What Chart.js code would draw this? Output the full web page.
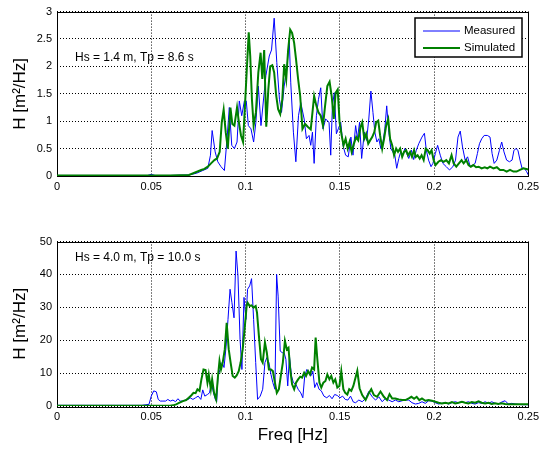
<!DOCTYPE html>
<html>
<head>
<meta charset="utf-8">
<title>Wave spectra</title>
<script src="https://cdn.jsdelivr.net/npm/chart.js@4.4.1/dist/chart.umd.min.js"></script>
<style>
  html, body { margin: 0; padding: 0; background: #fff; }
  #wrap { position: relative; width: 543px; height: 449px; }
  canvas { position: absolute; left: 0; }
  #topChart { top: 0; }
  #bottomChart { top: 215px; }
</style>
</head>
<body>
<div id="wrap">
  <canvas id="topChart" width="543" height="205"></canvas>
  <canvas id="bottomChart" width="543" height="234"></canvas>
</div>
<script>
// --------- Data ----------
const seriesLabels = ["Measured", "Simulated"];
const seaStates = ["Hs = 1.4 m, Tp = 8.6 s", "Hs = 4.0 m, Tp = 10.0 s"];

const freqTicks = [0, 0.05, 0.1, 0.15, 0.2, 0.25];
const freqTickLabels = ["0", "0.05", "0.1", "0.15", "0.2", "0.25"];
const topYTicks = [0, 0.5, 1, 1.5, 2, 2.5, 3];
const topYTickLabels = ["0", "0.5", "1", "1.5", "2", "2.5", "3"];
const botYTicks = [0, 10, 20, 30, 40, 50];
const botYTickLabels = ["0", "10", "20", "30", "40", "50"];

// Hs = 1.4 m : measured spectrum
const topFreqMeas = [
  0, 0.02, 0.04, 0.048, 0.05, 0.052, 0.06, 0.07, 0.074, 0.0773,
  0.0800, 0.0814, 0.0823, 0.0839, 0.0853, 0.0870, 0.0888, 0.0902, 0.0914, 0.0927,
  0.0941, 0.0955, 0.0967, 0.0980, 0.0994, 0.1004, 0.1015, 0.1029, 0.1043, 0.1055,
  0.1068, 0.1082, 0.1099, 0.1108, 0.1126, 0.1138, 0.1152, 0.1166, 0.1180, 0.1191,
  0.1205, 0.1219, 0.1232, 0.1240, 0.1254, 0.1267, 0.1281, 0.1293, 0.1311, 0.1323,
  0.1337, 0.1346, 0.1355, 0.1364, 0.1376, 0.1387, 0.1399, 0.1411, 0.1425, 0.1443,
  0.1452, 0.1461, 0.1471, 0.1482, 0.1492, 0.1505, 0.1517, 0.1531, 0.1545, 0.1559,
  0.1570, 0.1584, 0.1594, 0.1605, 0.1616, 0.1630, 0.1642, 0.1654, 0.1665, 0.1676,
  0.1686, 0.1697, 0.1707, 0.1718, 0.1728, 0.1739, 0.1749, 0.1760, 0.1771, 0.1781,
  0.1792, 0.1802, 0.1813, 0.1823, 0.1834, 0.1845, 0.1855, 0.1866, 0.1880, 0.1892,
  0.1906, 0.1919, 0.1936, 0.1949, 0.1959, 0.1971, 0.1984, 0.1994, 0.2007, 0.2019,
  0.2033, 0.2047, 0.2065, 0.2082, 0.2100, 0.2114, 0.2127, 0.2139, 0.2151, 0.2165,
  0.2178, 0.2192, 0.2206, 0.2218, 0.2230, 0.2241, 0.2253, 0.2266, 0.2283, 0.2297,
  0.2308, 0.2319, 0.2333, 0.2347, 0.2359, 0.2371, 0.2385, 0.2400, 0.2414, 0.2424,
  0.2435, 0.2445, 0.2456, 0.2467, 0.2479, 0.2491, 0.2500
];
const topMeas = [
  0.01, 0.01, 0.01, 0.01, 0.03, 0.01, 0.01, 0.02, 0.05, 0.10,
  0.14, 0.38, 0.83, 0.44, 0.26, 0.17, 0.10, 0.68, 1.25, 0.56,
  0.50, 0.62, 1.37, 1.10, 1.37, 1.37, 0.92, 0.86, 0.62, 0.98,
  1.64, 0.92, 1.52, 1.83, 2.19, 2.30, 2.88, 2.07, 1.40, 1.16,
  1.64, 1.95, 2.49, 1.70, 0.80, 0.26, 1.10, 1.34, 1.04, 0.68,
  0.74, 0.56, 0.80, 0.23, 1.10, 1.40, 1.61, 0.86, 1.04, 0.98,
  0.38, 1.28, 1.52, 0.77, 0.86, 0.98, 0.56, 0.38, 0.35, 0.71,
  0.38, 0.92, 0.68, 0.98, 0.32, 0.80, 0.65, 1.04, 1.55, 1.16,
  0.80, 0.62, 0.68, 0.50, 0.59, 0.86, 1.28, 0.80, 0.50, 0.44,
  0.38, 0.14, 0.32, 0.44, 0.38, 0.50, 0.41, 0.32, 0.47, 0.30,
  0.47, 0.59, 0.71, 0.78, 0.47, 0.29, 0.17, 0.23, 0.41, 0.56,
  0.38, 0.23, 0.17, 0.11, 0.17, 0.29, 0.71, 0.82, 0.53, 0.29,
  0.35, 0.17, 0.20, 0.23, 0.41, 0.59, 0.68, 0.74, 0.74, 0.71,
  0.41, 0.23, 0.29, 0.47, 0.62, 0.44, 0.29, 0.26, 0.29, 0.47,
  0.50, 0.47, 0.29, 0.14, 0.14, 0.08, 0.02
];

// Hs = 1.4 m : simulated spectrum
const topFreqSim = [
  0, 0.02, 0.04, 0.06, 0.07, 0.0765, 0.0782, 0.0800, 0.0817, 0.0835,
  0.0849, 0.0863, 0.0874, 0.0884, 0.0895, 0.0906, 0.0920, 0.0930, 0.0941, 0.0955,
  0.0965, 0.0976, 0.0987, 0.0997, 0.1006, 0.1017, 0.1025, 0.1034, 0.1043, 0.1055,
  0.1068, 0.1080, 0.1089, 0.1099, 0.1110, 0.1121, 0.1131, 0.1142, 0.1152, 0.1163,
  0.1173, 0.1184, 0.1195, 0.1205, 0.1216, 0.1226, 0.1237, 0.1247, 0.1258, 0.1268,
  0.1279, 0.1290, 0.1302, 0.1316, 0.1330, 0.1346, 0.1364, 0.1376, 0.1387, 0.1399,
  0.1411, 0.1422, 0.1434, 0.1446, 0.1457, 0.1468, 0.1478, 0.1489, 0.1499, 0.1510,
  0.1520, 0.1531, 0.1542, 0.1552, 0.1563, 0.1575, 0.1587, 0.1598, 0.1610, 0.1619,
  0.1630, 0.1640, 0.1651, 0.1661, 0.1672, 0.1683, 0.1693, 0.1704, 0.1714, 0.1725,
  0.1735, 0.1746, 0.1757, 0.1767, 0.1778, 0.1788, 0.1799, 0.1809, 0.1820, 0.1831,
  0.1841, 0.1852, 0.1862, 0.1873, 0.1883, 0.1894, 0.1903, 0.1913, 0.1924, 0.1934,
  0.1945, 0.1956, 0.1966, 0.1977, 0.1987, 0.1998, 0.2008, 0.2023, 0.2037, 0.2051,
  0.2065, 0.2079, 0.2093, 0.2104, 0.2118, 0.2132, 0.2146, 0.2157, 0.2171, 0.2183,
  0.2195, 0.2209, 0.2223, 0.2237, 0.2252, 0.2269, 0.2283, 0.2297, 0.2315, 0.2333,
  0.2350, 0.2368, 0.2385, 0.2403, 0.2421, 0.2438, 0.2456, 0.2474, 0.2500
];
const topSim = [
  0.01, 0.01, 0.01, 0.01, 0.02, 0.11, 0.13, 0.17, 0.23, 0.29,
  0.32, 0.44, 0.98, 1.21, 0.80, 0.50, 1.25, 0.95, 0.92, 1.25,
  0.98, 0.74, 0.62, 1.28, 1.89, 2.62, 2.19, 1.40, 0.92, 1.16,
  1.89, 2.25, 1.77, 2.30, 0.90, 1.58, 2.00, 2.02, 1.89, 1.46,
  1.22, 1.13, 1.40, 2.04, 1.77, 2.30, 2.67, 2.61, 2.43, 2.13,
  1.77, 1.46, 0.86, 0.95, 0.90, 0.85, 1.46, 1.28, 1.16, 1.10,
  0.92, 1.28, 1.64, 1.72, 1.46, 1.04, 1.52, 1.58, 0.98, 0.74,
  0.56, 0.68, 0.50, 0.62, 0.44, 0.59, 0.71, 0.65, 0.89, 0.98,
  0.68, 0.77, 0.59, 0.65, 0.71, 0.80, 0.98, 1.01, 0.74, 0.50,
  0.68, 0.92, 1.04, 0.68, 0.56, 0.38, 0.50, 0.44, 0.50, 0.35,
  0.44, 0.47, 0.38, 0.44, 0.35, 0.47, 0.35, 0.38, 0.32, 0.38,
  0.29, 0.50, 0.47, 0.41, 0.47, 0.29, 0.20, 0.26, 0.29, 0.26,
  0.29, 0.23, 0.38, 0.23, 0.17, 0.23, 0.29, 0.23, 0.29, 0.20,
  0.17, 0.20, 0.16, 0.17, 0.14, 0.16, 0.14, 0.17, 0.14, 0.16,
  0.11, 0.11, 0.08, 0.11, 0.08, 0.08, 0.11, 0.14, 0.12
];

// Hs = 4.0 m : measured spectrum
const botFreqMeas = [
  0, 0.02, 0.045, 0.0488, 0.0500, 0.0513, 0.0527, 0.0537, 0.0548, 0.0562,
  0.0576, 0.0588, 0.0601, 0.0615, 0.0629, 0.0641, 0.0654, 0.0668, 0.0682, 0.0696,
  0.0706, 0.0721, 0.0735, 0.0749, 0.0763, 0.0773, 0.0784, 0.0798, 0.0809, 0.0819,
  0.0830, 0.0840, 0.0847, 0.0854, 0.0865, 0.0876, 0.0886, 0.0897, 0.0907, 0.0918,
  0.0928, 0.0939, 0.0950, 0.0960, 0.0971, 0.0981, 0.0992, 0.1002, 0.1011, 0.1022,
  0.1032, 0.1043, 0.1054, 0.1064, 0.1078, 0.1091, 0.1103, 0.1113, 0.1124, 0.1135,
  0.1145, 0.1156, 0.1165, 0.1173, 0.1184, 0.1195, 0.1205, 0.1214, 0.1224, 0.1233,
  0.1244, 0.1254, 0.1267, 0.1279, 0.1293, 0.1304, 0.1314, 0.1325, 0.1335, 0.1346,
  0.1357, 0.1367, 0.1378, 0.1390, 0.1402, 0.1416, 0.1431, 0.1445, 0.1459, 0.1473,
  0.1487, 0.1501, 0.1515, 0.1529, 0.1543, 0.1557, 0.1572, 0.1584, 0.1601, 0.1619,
  0.1637, 0.1654, 0.1672, 0.1690, 0.1707, 0.1725, 0.1742, 0.1760, 0.1778, 0.1795,
  0.1813, 0.1831, 0.1848, 0.1866, 0.1883, 0.1901, 0.1919, 0.1936, 0.1954, 0.1971,
  0.1989, 0.2007, 0.2024, 0.2042, 0.2060, 0.2077, 0.2095, 0.2112, 0.2130, 0.2148,
  0.2165, 0.2183, 0.2200, 0.2218, 0.2236, 0.2253, 0.2271, 0.2289, 0.2306, 0.2324,
  0.2341, 0.2359, 0.2377, 0.2394, 0.2412, 0.2430, 0.2447, 0.2465, 0.2500
];
const botMeas = [
  0.2, 0.2, 0.2, 0.5, 3.0, 4.6, 4.3, 2.0, 1.5, 1.5,
  1.5, 2.0, 1.5, 1.8, 1.3, 2.2, 1.5, 1.5, 1.8, 2.0,
  2.5, 2.0, 2.5, 3.0, 2.0, 4.9, 3.0, 3.5, 4.0, 7.1,
  4.0, 2.0, 1.3, 9.1, 11.1, 13.2, 11.7, 18.2, 26.3, 35.5,
  31.4, 26.8, 47.1, 39.5, 20.3, 11.1, 33.0, 26.3, 35.5, 36.5,
  38.7, 26.3, 13.2, 2.0, 3.0, 5.1, 13.2, 14.7, 13.2, 9.6,
  7.1, 5.1, 40.0, 33.4, 16.7, 16.2, 16.2, 14.2, 6.1, 15.2,
  9.1, 7.1, 6.6, 5.1, 4.0, 2.5, 9.1, 11.1, 10.1, 9.1,
  10.6, 5.6, 7.1, 5.1, 4.6, 3.0, 2.5, 3.2, 2.2, 3.5,
  3.2, 2.5, 3.0, 2.0, 1.8, 3.0, 1.2, 1.0, 1.8, 1.3,
  2.3, 4.4, 2.8, 1.8, 2.8, 1.3, 2.3, 1.8, 1.3, 1.8,
  1.3, 1.6, 1.8, 1.8, 1.0, 0.6, 0.8, 1.3, 0.8, 1.6,
  1.5, 1.0, 0.6, 0.8, 1.0, 0.6, 1.0, 1.3, 1.0, 1.3,
  1.0, 1.3, 0.8, 0.6, 1.0, 0.8, 1.3, 0.8, 1.3, 0.8,
  0.6, 1.2, 1.6, 0.6, 0.8, 0.6, 0.5, 0.4, 0.4
];

// Hs = 4.0 m : simulated spectrum
const botFreqSim = [
  0, 0.03, 0.06, 0.0615, 0.0632, 0.0650, 0.0668, 0.0685, 0.0699, 0.0712,
  0.0724, 0.0735, 0.0745, 0.0756, 0.0766, 0.0777, 0.0788, 0.0798, 0.0805, 0.0816,
  0.0823, 0.0833, 0.0844, 0.0854, 0.0862, 0.0870, 0.0879, 0.0890, 0.0900, 0.0911,
  0.0921, 0.0932, 0.0943, 0.0953, 0.0964, 0.0974, 0.0985, 0.0995, 0.1006, 0.1011,
  0.1022, 0.1032, 0.1043, 0.1054, 0.1061, 0.1071, 0.1082, 0.1091, 0.1103, 0.1113,
  0.1124, 0.1135, 0.1145, 0.1156, 0.1166, 0.1177, 0.1187, 0.1198, 0.1209, 0.1219,
  0.1228, 0.1237, 0.1247, 0.1258, 0.1268, 0.1279, 0.1290, 0.1300, 0.1311, 0.1321,
  0.1332, 0.1342, 0.1353, 0.1364, 0.1372, 0.1381, 0.1392, 0.1402, 0.1413, 0.1424,
  0.1434, 0.1445, 0.1455, 0.1466, 0.1476, 0.1487, 0.1498, 0.1508, 0.1519, 0.1529,
  0.1540, 0.1550, 0.1561, 0.1572, 0.1593, 0.1605, 0.1619, 0.1637, 0.1654, 0.1667,
  0.1681, 0.1698, 0.1716, 0.1734, 0.1751, 0.1764, 0.1778, 0.1795, 0.1813, 0.1831,
  0.1848, 0.1866, 0.1880, 0.1894, 0.1908, 0.1922, 0.1936, 0.1954, 0.1971, 0.1989,
  0.2007, 0.2024, 0.2042, 0.2060, 0.2077, 0.2095, 0.2112, 0.2130, 0.2148, 0.2165,
  0.2183, 0.2200, 0.2218, 0.2236, 0.2253, 0.2271, 0.2289, 0.2306, 0.2324, 0.2341,
  0.2359, 0.2377, 0.2394, 0.2500
];
const botSim = [
  0.1, 0.1, 0.1, 0.2, 0.5, 1.0, 1.5, 1.8, 2.5, 3.2,
  4.0, 3.9, 5.1, 4.6, 8.1, 11.1, 10.9, 7.1, 9.6, 5.1,
  8.1, 4.0, 2.0, 9.1, 13.7, 11.1, 13.2, 17.2, 25.3, 17.2,
  13.2, 9.1, 8.6, 9.3, 10.6, 13.2, 17.2, 23.3, 30.4, 31.4,
  30.4, 30.6, 29.9, 30.4, 28.4, 21.3, 14.2, 13.2, 19.3, 16.2,
  11.1, 11.1, 10.6, 7.1, 4.0, 5.1, 9.1, 13.2, 19.8, 17.2,
  17.7, 11.1, 6.6, 5.1, 7.1, 8.1, 8.9, 8.6, 10.1, 9.1,
  10.6, 9.6, 11.7, 11.1, 20.8, 14.2, 7.1, 5.6, 7.1, 7.6,
  9.6, 8.1, 9.1, 7.1, 8.1, 5.6, 6.1, 10.6, 5.1, 4.0,
  3.5, 5.1, 4.6, 6.1, 10.7, 5.4, 3.3, 1.8, 3.9, 5.1,
  3.3, 2.8, 4.4, 2.8, 1.8, 3.6, 2.3, 2.3, 2.0, 1.8,
  1.8, 2.3, 2.8, 2.2, 2.8, 1.8, 2.3, 1.6, 1.8, 1.6,
  1.3, 1.0, 0.8, 1.0, 0.8, 1.2, 0.8, 1.0, 1.3, 1.0,
  0.8, 1.2, 1.0, 1.4, 1.0, 0.8, 1.0, 0.6, 0.8, 0.6,
  0.8, 0.6, 0.5, 0.5
];

// --------- Helpers ----------
const FONT = '"Liberation Sans", Arial, Helvetica, sans-serif';

function toPoints(freqs, values) {
    return freqs.map((f, i) => ({ x: f, y: values[i] }));
}

// solid black frame round the plot area (MATLAB "box on")
const framePlugin = {
    id: "frame",
    beforeDatasetsDraw(chart) {
        const { ctx, chartArea: a } = chart;
        ctx.save();
        ctx.strokeStyle = "#000";
        ctx.lineWidth = 1;
        ctx.strokeRect(Math.round(a.left) + 0.5, Math.round(a.top) + 0.5,
                       Math.round(a.right - a.left), Math.round(a.bottom - a.top));
        ctx.restore();
    }
};

// sea state text in the upper left corner
const noteLabel = {
    id: "noteLabel",
    afterDraw(chart, args, opts) {
        if (!opts.text) return;
        const { ctx, chartArea: a } = chart;
        ctx.save();
        ctx.fillStyle = "#000";
        ctx.font = "12px " + FONT;
        ctx.textBaseline = "middle";
        ctx.fillText(opts.text, a.left + 18, a.top + opts.dy);
        ctx.restore();
    }
};

// boxed legend in the upper right corner
const boxLegend = {
    id: "boxLegend",
    afterDatasetsDraw(chart, args, opts) {
        if (!opts.show) return;
        const { ctx, chartArea: a } = chart;
        const w = 107, h = 39;
        const x = Math.round(a.right - 6 - w), y = Math.round(a.top + 6);
        ctx.save();
        ctx.fillStyle = "#fff";
        ctx.fillRect(x, y, w, h);
        ctx.strokeStyle = "#000";
        ctx.lineWidth = 1.5;
        ctx.strokeRect(x, y, w, h);
        ctx.font = "11.5px " + FONT;
        ctx.textBaseline = "middle";
        chart.data.datasets.forEach((ds, i) => {
            const ly = y + 13 + i * 17;
            ctx.strokeStyle = ds.borderColor;
            ctx.lineWidth = ds.borderWidth;
            ctx.beginPath();
            ctx.moveTo(x + 8, ly);
            ctx.lineTo(x + 45, ly);
            ctx.stroke();
            ctx.fillStyle = "#000";
            ctx.fillText(ds.label, x + 49, ly);
        });
        ctx.restore();
    }
};

function makeSpectrum(canvasId, cfg) {
    const ctx = document.getElementById(canvasId).getContext("2d");

    return new Chart(ctx, {
        type: "line",
        data: {
            datasets: [{
                label: seriesLabels[0],
                data: toPoints(cfg.measFreq, cfg.meas),
                borderColor: "#0000ff",
                borderWidth: 1,
                pointRadius: 0,
                tension: 0,
                order: 1
            }, {
                label: seriesLabels[1],
                data: toPoints(cfg.simFreq, cfg.sim),
                borderColor: "#008000",
                borderWidth: 2,
                pointRadius: 0,
                tension: 0,
                order: 0
            }]
        },
        options: {
            responsive: false,
            animation: false,
            devicePixelRatio: 1,
            events: [],
            layout: { padding: { top: cfg.padTop, right: 13, left: 0, bottom: 0 } },
            plugins: {
                legend: { display: false },
                tooltip: { enabled: false },
                noteLabel: { text: cfg.note, dy: cfg.noteDy },
                boxLegend: { show: cfg.legend }
            },
            scales: {
                x: {
                    type: "linear",
                    min: 0,
                    max: 0.25,
                    afterFit: s => { s.height = cfg.xAxisHeight; },
                    afterBuildTicks: s => { s.ticks = freqTicks.map(v => ({ value: v })); },
                    ticks: {
                        autoSkip: false,
                        maxRotation: 0,
                        padding: 4,
                        color: "#000",
                        font: { size: 11, family: FONT },
                        callback: (v, i) => freqTickLabels[i]
                    },
                    grid: { color: "#000", lineWidth: 1, drawTicks: false },
                    border: { display: false, dash: [1, 2] },
                    title: {
                        display: cfg.xTitle,
                        text: "Freq [Hz]",
                        color: "#000",
                        font: { size: 17, family: FONT },
                        padding: { top: 0, bottom: 3 }
                    }
                },
                y: {
                    type: "linear",
                    min: 0,
                    max: cfg.yTicks[cfg.yTicks.length - 1],
                    afterFit: s => { s.width = 57; },
                    afterBuildTicks: s => { s.ticks = cfg.yTicks.map(v => ({ value: v })); },
                    ticks: {
                        padding: 5,
                        color: "#000",
                        font: { size: 11, family: FONT },
                        callback: (v, i) => cfg.yLabels[i]
                    },
                    grid: { color: "#000", lineWidth: 1, drawTicks: false },
                    border: { display: false, dash: [1, 2] },
                    title: {
                        display: true,
                        text: "H [m²/Hz]",
                        color: "#000",
                        font: { size: 17, family: FONT },
                        padding: { top: 10, bottom: 0 }
                    }
                }
            }
        },
        plugins: [framePlugin, noteLabel, boxLegend]
    });
}

// --------- Entry point ----------
makeSpectrum("topChart", {
    measFreq: topFreqMeas, meas: topMeas,
    simFreq: topFreqSim, sim: topSim,
    yTicks: topYTicks, yLabels: topYTickLabels,
    padTop: 10, xAxisHeight: 29, xTitle: false,
    note: seaStates[0], noteDy: 46, legend: true
});

makeSpectrum("bottomChart", {
    measFreq: botFreqMeas, meas: botMeas,
    simFreq: botFreqSim, sim: botSim,
    yTicks: botYTicks, yLabels: botYTickLabels,
    padTop: 26.5, xAxisHeight: 43, xTitle: true,
    note: seaStates[1], noteDy: 16, legend: false
});
</script>
</body>
</html>
